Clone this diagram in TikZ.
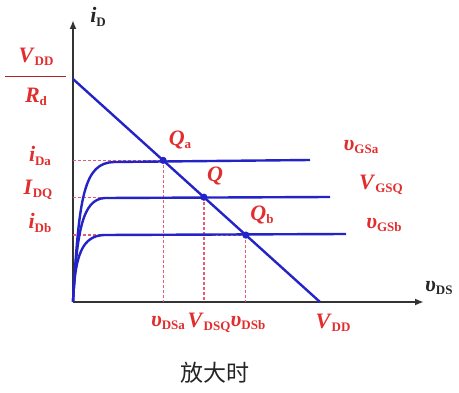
\documentclass[tikz,border=0pt]{standalone}
\usepackage{fontspec}
\setmainfont{Liberation Serif}
\newfontfamily\cjk{Noto Sans CJK SC}
\usetikzlibrary{arrows.meta,calc}
\definecolor{lblred}{RGB}{225,45,45}
\definecolor{curveblue}{RGB}{35,35,200}
\definecolor{guidered}{RGB}{230,90,120}
\newcommand{\sublab}[2]{\textbf{\textit{#1}}\raisebox{-0.35ex}{\fontsize{13}{14}\selectfont\textbf{#2}}}
\begin{document}
\begin{tikzpicture}[x=1pt, y=-1pt,
  every node/.style={font=\fontsize{22}{24}\selectfont, text=lblred, inner sep=1pt},
  axis/.style={line width=2.6pt, draw=black!80},
  curve/.style={line width=2.4pt, draw=curveblue},
  guide/.style={line width=1.2pt, draw=guidered, dash pattern=on 2.5pt off 2.5pt}]
  \useasboundingbox (0,0) rectangle (459,393);
  % axes
  \coordinate (O) at (73,302);
  \coordinate (ytop) at (73,20);
  \coordinate (xend) at (424,302);
  \draw[axis, -{Latex[length=9pt,width=7pt]}] (O) -- (ytop);
  \draw[axis, -{Latex[length=9pt,width=7pt]}] (O) -- (xend);
  % load line and Q points
  \coordinate (A) at (73,79);
  \coordinate (B) at (320,302);
  \coordinate (Qa) at ($(A)!0.365!(B)$);
  \coordinate (Q) at ($(A)!0.53!(B)$);
  \coordinate (Qb) at ($(A)!0.70!(B)$);
  % guides
  \foreach \p in {Qa,Q,Qb} {
    \draw[guide] (O |- \p) -- (\p);
    \draw[guide] (\p) -- (\p |- O);
  }
  % output curves
  \draw[curve] (O) .. controls (79,195) and (84,163) .. (114,162) -- (310,160);
  \draw[curve] (O) .. controls (77,232) and (82,199) .. (105,198) -- (330,197);
  \draw[curve] (O) .. controls (75,255) and (82,236) .. (104,235) -- (346,234);
  \draw[curve] (A) -- (B);
  \foreach \p in {Qa,Q,Qb} \fill[curveblue] (\p) circle (3.6pt);
  % labels
  \node[text=black!85] (iD) at (98,17) {\sublab{i}{D}};
  \node (vdd) at (36,57) {\sublab{V}{DD}};
  \node (rd) at (36,97) {\sublab{R}{d}};
  \draw[lblred!80!black, line width=1pt] (5,77) -- (66,77);
  \node (iDa) at (40,156) {\sublab{i}{Da}};
  \node (IDQ) at (38,190) {\sublab{I}{DQ}};
  \node (iDb) at (40,223) {\sublab{i}{Db}};
  \node (qa) at (180,140) {\sublab{Q}{a}};
  \node (qq) at (215,176) {\textbf{\textit{Q}}};
  \node (qb) at (262,215) {\sublab{Q}{b}};
  \node (vgsa) at (361,147) {\sublab{υ}{GSa}};
  \node (vgsq) at (381,185) {\sublab{V}{GSQ}};
  \node (vgsb) at (384,225) {\sublab{υ}{GSb}};
  \node (vdsa) at (168,323) {\sublab{υ}{DSa}};
  \node (vdsq) at (209,323) {\sublab{V}{DSQ}};
  \node (vdsb) at (248,323) {\sublab{υ}{DSb}};
  \node (vddx) at (333,323) {\sublab{V}{DD}};
  \node[anchor=west, text=black!85] (vds) at (424,288) {\sublab{υ}{DS}};
  \node[text=black!85, font=\cjk\fontsize{23}{25}\selectfont] (cap) at (215,373) {放大时};
\end{tikzpicture}
\end{document}
